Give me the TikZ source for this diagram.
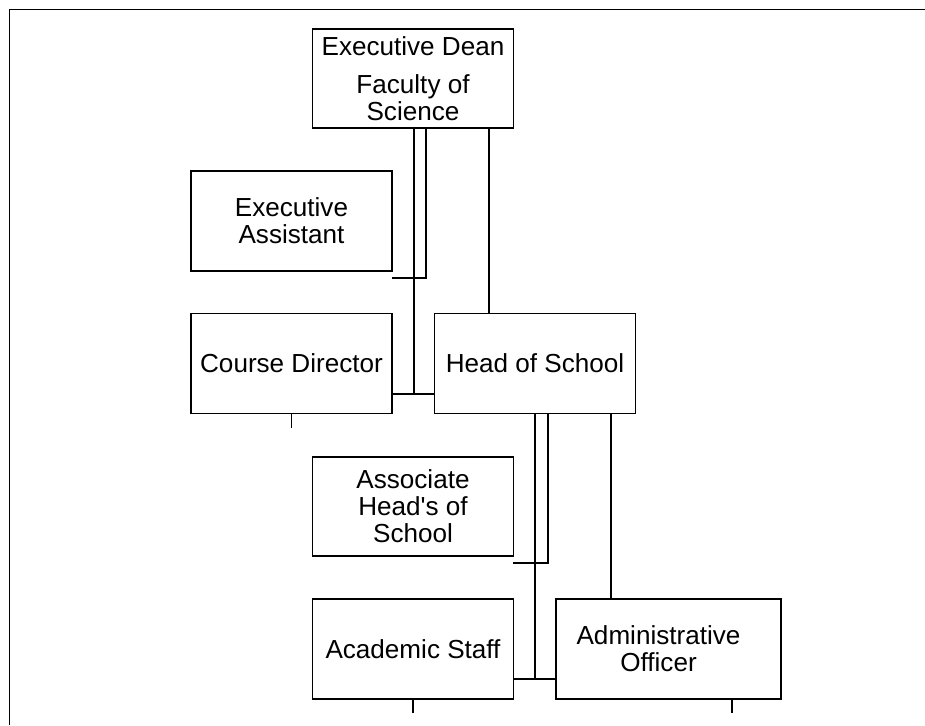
\documentclass[tikz,border=0pt]{standalone}
\usepackage{fontspec}
\setmainfont{Liberation Sans}[Ligatures=TeXOff]
\tikzset{
  box/.style={draw, line width=0.9pt, inner sep=0pt, outer sep=0pt, align=center,
    minimum width=4.02cm, minimum height=2cm,
    font=\fontsize{14.85}{15.4}\selectfont},
  link/.style={line width=0.6pt}
}
\begin{document}
\begin{tikzpicture}[x=0.02cm, y=-0.02cm]
\useasboundingbox (0,0) rectangle (925,725);
% frame
\draw[line width=1.1pt] (9.5,725) -- (9.5,9.5) -- (925,9.5);
% top
\node[box, minimum height=1.98cm] (dean) at (413,78.5) {Executive Dean\\[0.22cm]Faculty of\\Science};
\node[box] (assist) at (291.5,221) {Executive\\Assistant};
% middle
\node[box] (course) at (291.5,363.5) {Course Director};
\node[box] (head) at (535,363.5) {Head of School};
\node[box, minimum height=1.98cm] (assoc) at (413,506.5) {Associate\\Head's of\\School};
% bottom
\node[box] (staff) at (413,649) {Academic Staff};
\node[box, minimum width=4.5cm] (admin) at (668.5,649) {Administrative\hspace*{0.4cm}\\Officer\hspace*{0.4cm}};
% junctions
\coordinate (a) at (414,394);
\coordinate (b) at (426,278);
\coordinate (c) at (489,0);
\coordinate (e) at (535,679);
\coordinate (f) at (548,563);
\coordinate (g) at (611,0);
\coordinate (h) at (732,0);
% lines
\draw[link] (dean.south -| a) -- (a);
\draw[link] (course.east |- a) -- (head.west |- a);
\draw[link] (dean.south -| b) -- (b) -- (assist.east |- b);
\draw[link] (dean.south -| c) -- (head.north -| c);
\draw[link] (head.south -| e) -- (e);
\draw[link] (staff.east |- e) -- (admin.west |- e);
\draw[link] (head.south -| f) -- (f) -- (assoc.east |- f);
\draw[link] (head.south -| g) -- (admin.north -| g);
% stubs
\draw[link] (course.south) -- ++(0,14);
\draw[link] (staff.south) -- ++(0,14);
\draw[link] (admin.south -| h) -- ++(0,14);
\end{tikzpicture}
\end{document}
